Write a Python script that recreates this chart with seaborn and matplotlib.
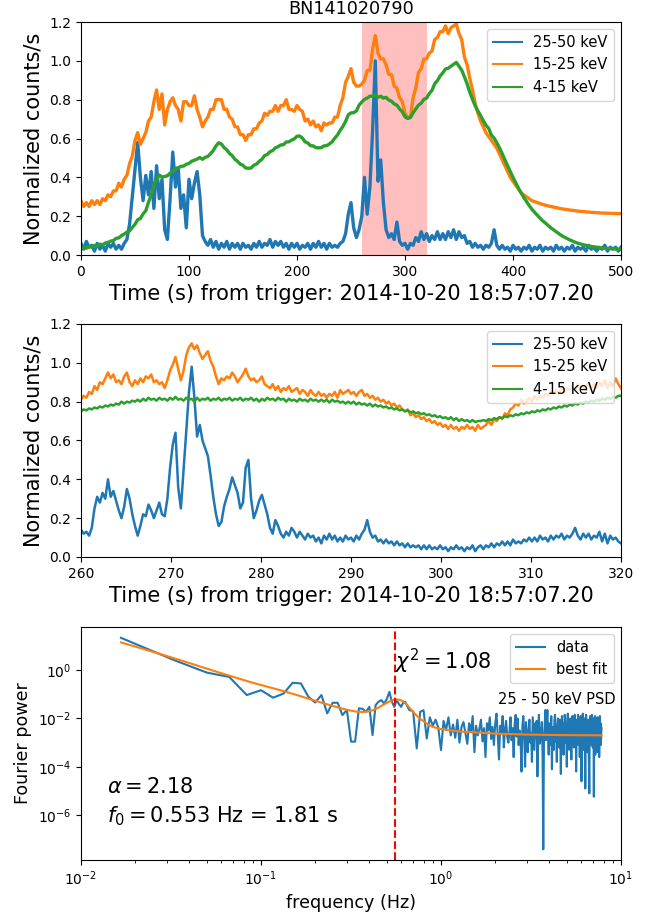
import numpy as np
import matplotlib
matplotlib.use("Agg")
import matplotlib.pyplot as plt
import matplotlib.ticker as mticker
import seaborn as sns

# ---------------------------------------------------------------- data
band_labels = ["25-50 keV", "15-25 keV", "4-15 keV"]
band_colors = ["#1f77b4", "#ff7f0e", "#2ca02c"]

# full light curve, 0-500 s, 2.5 s bins (normalized counts/s)
lc_full_25_50 = [
    0.06, 0.03, 0.07, 0.04, 0.05, 0.02, 0.06, 0.03, 0.05, 0.02, 0.06, 0.04, 0.06, 0.03, 0.05, 0.03, 0.06,
    0.08, 0.16, 0.30, 0.44, 0.58, 0.40, 0.28, 0.41, 0.31, 0.43, 0.24, 0.46, 0.29, 0.39,
    0.13, 0.08, 0.29, 0.53, 0.35, 0.45, 0.24, 0.31, 0.14, 0.39, 0.29, 0.37, 0.43, 0.31, 0.10, 0.07,
    0.05, 0.08, 0.04, 0.07, 0.03, 0.06, 0.04, 0.07, 0.03, 0.06,
    0.04, 0.06, 0.03, 0.06, 0.04, 0.05, 0.03, 0.06, 0.04, 0.07,
    0.04, 0.06, 0.05, 0.08, 0.04, 0.07, 0.05, 0.07, 0.04, 0.06,
    0.03, 0.06, 0.04, 0.06, 0.03, 0.05, 0.04, 0.06, 0.03, 0.06,
    0.04, 0.07, 0.04, 0.06, 0.03, 0.06, 0.04, 0.05, 0.04, 0.06,
    0.07,
    0.11, 0.21, 0.27, 0.14, 0.09, 0.13, 0.20, 0.40, 0.21, 0.35,
    0.64, 1.00, 0.38, 0.49, 0.27, 0.13, 0.09, 0.11, 0.08, 0.17,
    0.07, 0.05, 0.06, 0.03, 0.06, 0.05, 0.09, 0.07, 0.12, 0.08,
    0.11, 0.07, 0.10, 0.08, 0.12, 0.08, 0.11, 0.08, 0.12, 0.09,
    0.13, 0.08, 0.12, 0.09, 0.10, 0.06, 0.07, 0.04, 0.06, 0.04,
    0.05, 0.03, 0.05, 0.04, 0.06, 0.13, 0.05, 0.03,
    0.05, 0.03, 0.04, 0.02, 0.05, 0.03, 0.04, 0.02, 0.04, 0.03,
    0.05, 0.02, 0.04, 0.03, 0.05, 0.02, 0.04, 0.03, 0.04, 0.02,
    0.05, 0.03, 0.04, 0.02, 0.04, 0.03, 0.05, 0.02, 0.04, 0.03,
    0.04, 0.02, 0.05, 0.03, 0.04, 0.02, 0.04, 0.03, 0.05, 0.02,
    0.04, 0.03, 0.04, 0.02, 0.04,
]
lc_full_15_25 = [
    0.28, 0.25, 0.27, 0.25, 0.28, 0.26, 0.28, 0.26, 0.29, 0.28, 0.31, 0.30, 0.33, 0.33, 0.37, 0.35, 0.39,
    0.41, 0.47, 0.51, 0.59, 0.63, 0.57, 0.60, 0.63, 0.69, 0.71, 0.79, 0.85, 0.75, 0.83,
    0.67, 0.75, 0.79, 0.81, 0.77, 0.75, 0.69, 0.79, 0.79, 0.77, 0.77, 0.82, 0.75, 0.71, 0.66, 0.69,
    0.71, 0.75, 0.75, 0.80, 0.80, 0.80, 0.75, 0.75, 0.71, 0.70,
    0.66, 0.66, 0.62, 0.62, 0.59, 0.62, 0.62, 0.65, 0.65, 0.68,
    0.69, 0.73, 0.72, 0.74, 0.74, 0.77, 0.74, 0.77, 0.77, 0.80,
    0.75, 0.75, 0.74, 0.77, 0.75, 0.74, 0.69, 0.70, 0.67, 0.69,
    0.66, 0.67, 0.64, 0.68, 0.67, 0.68, 0.68, 0.71, 0.71, 0.77,
    0.81,
    0.89, 0.92, 0.96, 0.89, 0.87, 0.87, 0.88, 0.90, 0.95, 0.95,
    1.06, 1.13, 1.04, 1.01, 1.01, 0.98, 0.93, 0.93, 0.87, 0.86,
    0.81, 0.79, 0.73, 0.71, 0.71, 0.81, 0.86, 0.94, 0.96, 1.01,
    1.01, 1.04, 1.05, 1.11, 1.12, 1.15, 1.15, 1.18, 1.14, 1.17,
    1.18, 1.19, 1.14, 1.11, 1.02, 0.98, 0.91, 0.85, 0.78, 0.73,
    0.69, 0.66, 0.63, 0.61, 0.59, 0.57, 0.55, 0.52,
    0.49, 0.46, 0.43, 0.40, 0.38, 0.36, 0.34, 0.32, 0.31, 0.30,
    0.29, 0.28, 0.275, 0.27, 0.265, 0.26, 0.257, 0.253, 0.25, 0.247,
    0.244, 0.241, 0.238, 0.236, 0.234, 0.232, 0.23, 0.228, 0.226, 0.225,
    0.224, 0.222, 0.221, 0.22, 0.219, 0.218, 0.217, 0.216, 0.216, 0.215,
    0.215, 0.214, 0.214, 0.213, 0.213,
]
lc_full_4_15 = [
    0.03, 0.04, 0.035, 0.045, 0.04, 0.05, 0.045, 0.056, 0.052, 0.062, 0.064, 0.072, 0.074, 0.086, 0.088, 0.10, 0.108,
    0.118, 0.124, 0.142, 0.158, 0.182, 0.188, 0.212, 0.228, 0.272, 0.308, 0.362, 0.388, 0.412, 0.402,
    0.404, 0.408, 0.422, 0.428, 0.447, 0.448, 0.457, 0.458, 0.467, 0.472, 0.483, 0.488, 0.494, 0.502, 0.493, 0.503,
    0.508, 0.522, 0.538, 0.562, 0.578, 0.572, 0.553, 0.542, 0.523, 0.512,
    0.493, 0.482, 0.468, 0.462, 0.448, 0.447, 0.448, 0.462, 0.468, 0.482,
    0.493, 0.512, 0.518, 0.532, 0.538, 0.552, 0.558, 0.567, 0.568, 0.582,
    0.583, 0.592, 0.598, 0.612, 0.613, 0.602, 0.583, 0.577, 0.563, 0.562,
    0.553, 0.552, 0.553, 0.562, 0.563, 0.572, 0.583, 0.602, 0.618, 0.642,
    0.662,
    0.688, 0.722, 0.732, 0.733, 0.742, 0.772, 0.788, 0.802, 0.808, 0.818,
    0.818, 0.825, 0.812, 0.818, 0.808, 0.812, 0.798, 0.792, 0.778, 0.772,
    0.752, 0.738, 0.712, 0.703, 0.708, 0.732, 0.752, 0.772, 0.782, 0.802,
    0.808, 0.832, 0.848, 0.882, 0.898, 0.922, 0.938, 0.958, 0.962, 0.972,
    0.982, 0.992, 0.972, 0.952, 0.918, 0.882, 0.838, 0.802, 0.768, 0.742,
    0.718, 0.692, 0.668, 0.652, 0.618, 0.602, 0.578, 0.552,
    0.522, 0.49, 0.46, 0.43, 0.40, 0.372, 0.345, 0.32, 0.296, 0.275,
    0.255, 0.236, 0.22, 0.205, 0.19, 0.176, 0.165, 0.152, 0.14, 0.13,
    0.12, 0.11, 0.10, 0.092, 0.085, 0.078, 0.072, 0.066, 0.061, 0.057,
    0.053, 0.05, 0.047, 0.044, 0.042, 0.04, 0.038, 0.036, 0.035, 0.034,
    0.033, 0.032, 0.031, 0.03, 0.03,
]

# zoomed window, 260-320 s, 0.3 s bins
lc_zoom_25_50 = [
    0.14, 0.12, 0.13, 0.11, 0.15, 0.25, 0.31, 0.28, 0.33, 0.30,
    0.40, 0.31, 0.34, 0.29, 0.24, 0.20, 0.26, 0.35, 0.30, 0.22,
    0.16, 0.11, 0.16, 0.22, 0.21, 0.27, 0.24, 0.20, 0.24, 0.28,
    0.22, 0.21, 0.30, 0.46, 0.58, 0.64, 0.36, 0.25, 0.45, 0.65,
    0.85, 0.98, 0.82, 0.62, 0.68, 0.60, 0.56, 0.52, 0.42, 0.31,
    0.22, 0.16, 0.18, 0.26, 0.31, 0.35, 0.41, 0.37, 0.33, 0.25,
    0.28, 0.46, 0.50, 0.30, 0.20, 0.24, 0.29, 0.32, 0.27, 0.22,
    0.15, 0.12, 0.19, 0.16, 0.12, 0.10, 0.13, 0.11, 0.15, 0.13,
    0.10, 0.13, 0.11, 0.09, 0.12, 0.10, 0.11, 0.08, 0.10, 0.07,
    0.11, 0.09, 0.12, 0.09, 0.11, 0.08, 0.10, 0.08, 0.11, 0.09,
    0.10, 0.08, 0.11, 0.09, 0.12, 0.14, 0.19, 0.13, 0.10, 0.11,
    0.08, 0.09, 0.07, 0.09, 0.07, 0.08, 0.06, 0.08, 0.06, 0.07,
    0.05, 0.07, 0.05, 0.06, 0.05, 0.06, 0.04, 0.06, 0.04, 0.06,
    0.04, 0.05, 0.04, 0.06, 0.04, 0.05, 0.03, 0.05, 0.04, 0.06,
    0.04, 0.05, 0.03, 0.05, 0.04, 0.06, 0.03, 0.05, 0.06, 0.04,
    0.06, 0.05, 0.07, 0.05, 0.07, 0.06, 0.08, 0.06, 0.08, 0.06,
    0.09, 0.07, 0.08, 0.07, 0.09, 0.08, 0.10, 0.08, 0.10, 0.08,
    0.11, 0.09, 0.10, 0.08, 0.11, 0.09, 0.11, 0.10, 0.12, 0.09,
    0.11, 0.10, 0.12, 0.15, 0.11, 0.09, 0.12, 0.10, 0.12, 0.09,
    0.11, 0.10, 0.13, 0.08, 0.12, 0.07, 0.11, 0.09, 0.10, 0.08,
    0.07,
]
lc_zoom_15_25 = [
    0.81, 0.83, 0.82, 0.85, 0.84, 0.88, 0.86, 0.90, 0.89, 0.92,
    0.95, 0.92, 0.94, 0.90, 0.91, 0.89, 0.93, 0.95, 0.90, 0.88,
    0.91, 0.89, 0.92, 0.90, 0.93, 0.92, 0.94, 0.90, 0.91, 0.89,
    0.90, 0.87, 0.91, 0.96, 0.99, 1.03, 0.97, 0.91, 0.96, 1.04,
    1.08, 1.10, 1.07, 1.09, 1.05, 1.02, 1.04, 1.06, 1.01, 0.98,
    0.93, 0.89, 0.92, 0.91, 0.93, 0.92, 0.95, 0.93, 0.90, 0.92,
    0.94, 0.97, 0.93, 0.91, 0.92, 0.90, 0.91, 0.93, 0.89, 0.88,
    0.87, 0.89, 0.86, 0.88, 0.85, 0.87, 0.86, 0.88, 0.85, 0.86,
    0.87, 0.84, 0.86, 0.85, 0.83, 0.86, 0.84, 0.83, 0.85, 0.83,
    0.84, 0.82, 0.84, 0.83, 0.85, 0.82, 0.86, 0.84, 0.85, 0.86,
    0.84, 0.85, 0.83, 0.85, 0.86, 0.83, 0.84, 0.82, 0.83, 0.81,
    0.82, 0.80, 0.81, 0.79, 0.80, 0.78, 0.79, 0.77, 0.78, 0.76,
    0.75, 0.76, 0.73, 0.74, 0.72, 0.73, 0.71, 0.72, 0.70, 0.71,
    0.69, 0.70, 0.68, 0.69, 0.67, 0.68, 0.66, 0.68, 0.66, 0.67,
    0.65, 0.67, 0.66, 0.68, 0.66, 0.67, 0.65, 0.68, 0.66, 0.67,
    0.68, 0.70, 0.68, 0.71, 0.70, 0.72, 0.71, 0.74, 0.73, 0.76,
    0.77, 0.79, 0.78, 0.81, 0.79, 0.80, 0.82, 0.80, 0.83, 0.81,
    0.83, 0.82, 0.84, 0.83, 0.85, 0.84, 0.86, 0.84, 0.87, 0.85,
    0.87, 0.86, 0.88, 0.86, 0.89, 0.87, 0.88, 0.86, 0.90, 0.87,
    0.89, 0.87, 0.90, 0.88, 0.91, 0.87, 0.90, 0.88, 0.92, 0.89,
    0.87,
]
lc_zoom_4_15 = [
    0.75, 0.76, 0.755, 0.765, 0.76, 0.77, 0.765, 0.775, 0.77, 0.78,
    0.775, 0.785, 0.78, 0.79, 0.785, 0.80, 0.79, 0.80, 0.795, 0.805,
    0.80, 0.81, 0.80, 0.815, 0.805, 0.82, 0.81, 0.815, 0.805, 0.82,
    0.81, 0.815, 0.805, 0.82, 0.81, 0.825, 0.81, 0.815, 0.805, 0.82,
    0.81, 0.815, 0.80, 0.82, 0.805, 0.815, 0.81, 0.82, 0.805, 0.815,
    0.81, 0.82, 0.805, 0.815, 0.81, 0.82, 0.805, 0.815, 0.81, 0.82,
    0.805, 0.815, 0.81, 0.82, 0.805, 0.815, 0.80, 0.815, 0.805, 0.82,
    0.81, 0.815, 0.805, 0.82, 0.81, 0.815, 0.80, 0.815, 0.805, 0.81,
    0.80, 0.815, 0.805, 0.81, 0.80, 0.815, 0.805, 0.81, 0.80, 0.81,
    0.80, 0.81, 0.795, 0.81, 0.80, 0.805, 0.795, 0.80, 0.79, 0.80,
    0.79, 0.80, 0.785, 0.795, 0.785, 0.79, 0.78, 0.79, 0.775, 0.785,
    0.775, 0.78, 0.77, 0.775, 0.765, 0.77, 0.76, 0.765, 0.755, 0.76,
    0.75, 0.755, 0.745, 0.75, 0.74, 0.745, 0.735, 0.74, 0.73, 0.735,
    0.725, 0.73, 0.72, 0.725, 0.715, 0.72, 0.71, 0.72, 0.705, 0.715,
    0.70, 0.71, 0.70, 0.705, 0.695, 0.705, 0.695, 0.70, 0.70, 0.705,
    0.70, 0.71, 0.705, 0.715, 0.71, 0.72, 0.715, 0.725, 0.72, 0.73,
    0.725, 0.735, 0.73, 0.74, 0.735, 0.745, 0.74, 0.75, 0.745, 0.755,
    0.75, 0.76, 0.755, 0.765, 0.76, 0.77, 0.765, 0.775, 0.77, 0.78,
    0.775, 0.785, 0.78, 0.79, 0.785, 0.795, 0.79, 0.80, 0.795, 0.805,
    0.80, 0.81, 0.805, 0.815, 0.81, 0.82, 0.815, 0.825, 0.82, 0.83,
    0.83,
]

# 25-50 keV power spectrum: log10(power) on the 1/60 Hz Fourier grid
psd_log_low = [  # bins 1..40
    1.34, 0.40, -0.10, -0.28, -1.03, -0.83, -1.14, -0.97, -0.52, -0.55,
    -1.10, -1.34, -1.03, -1.79, -1.35, -1.35, -1.86, -1.65, -2.96, -2.96,
    -1.58, -1.60, -1.72, -1.52, -2.69, -1.45, -1.30, -1.24, -1.38, -1.20,
    -0.90, -1.30, -1.52, -1.24, -1.40, -1.52, -1.35, -1.31, -1.50, -1.65,
]
psd_log_high = [  # every second bin from bin 42 (0.70 Hz) to bin 468 (7.80 Hz)
    -1.70, -3.24, -1.72, -1.66, -2.83, -1.95, -2.30, -2.05, -2.40, -3.31,
    -2.10, -2.48, -1.95, -2.70, -2.25, -2.80, -2.05, -3.00, -2.35, -2.15,
    -2.60, -3.05, -2.20, -2.55, -1.90, -3.40, -2.30, -2.70, -2.45, -2.05,
    -2.95, -2.40, -3.60, -2.20, -2.50, -1.95, -2.85, -2.35, -3.10, -2.25,
    -1.80, -2.70, -3.70, -2.30, -2.60, -1.90, -3.20, -2.45, -2.10, -2.75,
    -3.00, -2.55, -1.95, -2.90, -2.40, -3.60, -2.20, -1.85, -2.75, -2.00,
    -3.10, -2.50, -2.85, -4.20, -2.30, -1.90, -2.70, -4.00, -2.15, -2.90,
    -3.40, -2.45, -2.05, -3.00, -2.60, -3.80, -1.95, -2.60, -3.30, -2.20,
    -2.80, -2.10, -4.40, -2.50, -1.85, -3.05, -2.40, -2.90, -2.15, -3.50,
    -7.42, -2.80, -2.30, -1.65, -2.90, -2.20, -1.65, -2.70, -3.50, -2.20,
    -3.10, -2.55, -1.90, -4.10, -2.35, -2.80, -3.30, -2.10, -1.85, -2.95,
    -2.50, -3.80, -2.25, -2.00, -2.70, -3.20, -2.05, -2.85, -4.30, -2.40,
    -1.90, -2.90, -2.20, -3.50, -2.60, -1.85, -2.05, -3.00, -2.45, -4.00,
    -2.30, -1.80, -2.75, -2.15, -3.30, -2.55, -2.00, -2.90, -3.70, -2.35,
    -1.90, -2.80, -2.10, -3.20, -2.50, -1.85, -2.95, -2.20, -4.20, -2.60,
    -2.05, -3.10, -1.85, -2.45, -2.85, -2.15, -3.60, -2.40, -1.90, -2.90,
    -4.60, -2.30, -2.75, -1.80, -2.10, -3.30, -2.55, -2.00, -2.95, -4.90,
    -2.40, -1.85, -2.80, -2.15, -3.40, -2.50, -2.05, -2.90, -3.80, -5.10,
    -2.35, -1.90, -2.70, -2.10, -3.10, -2.20, -1.85, -2.60, -3.20, -2.45,
    -2.00, -5.24, -2.40, -2.80, -1.90, -3.50, -2.30, -2.65, -2.10, -3.00,
    -2.55, -1.95, -3.40, -2.25, -2.70, -2.05, -3.60, -2.35, -1.90, -2.80,
    -2.20, -3.10, -2.60, -2.40,
]

# best-fit model (power law + bump at f0 + white noise), log10(power)
fit_freq = [0.0167, 0.0234, 0.0365, 0.057, 0.0888, 0.1386, 0.216, 0.27, 0.308, 0.34,
            0.368, 0.395, 0.421, 0.45, 0.481, 0.515, 0.553, 0.585, 0.614, 0.65,
            0.687, 0.73, 0.784, 0.84, 0.895, 0.96, 1.02, 1.28, 2.0, 3.11, 4.85, 7.8]
fit_log = [1.15, 0.83, 0.39, -0.07, -0.51, -0.90, -1.34, -1.55, -1.66, -1.72,
           -1.73, -1.71, -1.65, -1.55, -1.42, -1.30, -1.21, -1.22, -1.28, -1.45,
           -1.66, -1.87, -2.07, -2.22, -2.34, -2.41, -2.45, -2.54, -2.63, -2.67, -2.69, -2.70]

alpha_fit = 2.18
f0_fit = 0.553
chi2_fit = 1.08

# ---------------------------------------------------------------- figure
fig = plt.figure(figsize=(6.6, 9.17), dpi=100)
ax_full = fig.add_axes([0.1227, 0.7219, 0.8182, 0.2541])
ax_zoom = fig.add_axes([0.1227, 0.3926, 0.8182, 0.2541])
ax_psd = fig.add_axes([0.1227, 0.0622, 0.8182, 0.2541])

LABEL_FS = 15
LEGEND_FS = 10.5
time_label = "Time (s) from trigger: 2014-10-20 18:57:07.20"


def draw_light_curves(ax, t0, t1, curves, lw):
    for vals, lab, col in zip(curves, band_labels, band_colors):
        t = np.linspace(t0, t1, len(vals))
        sns.lineplot(x=t, y=vals, ax=ax, color=col, label=lab,
                     linewidth=lw, errorbar=None)
    ax.set_xlim(t0, t1)
    ax.set_ylim(0, 1.2)
    ax.set_yticks(np.arange(0, 1.21, 0.2))
    ax.set_xlabel(time_label, fontsize=LABEL_FS)
    ax.set_ylabel("Normalized counts/s", fontsize=LABEL_FS)
    leg = ax.legend(loc="upper right", fontsize=LEGEND_FS)
    for handle in leg.get_lines():
        handle.set_linewidth(1.5)


# full burst with the zoom window highlighted
ax_full.axvspan(260, 320, color="red", alpha=0.25, lw=0, zorder=0)
draw_light_curves(ax_full, 0, 500, [lc_full_25_50, lc_full_15_25, lc_full_4_15], lw=2.4)
ax_full.set_title("BN141020790", fontsize=12.7)

# zoomed window
draw_light_curves(ax_zoom, 260, 320, [lc_zoom_25_50, lc_zoom_15_25, lc_zoom_4_15], lw=1.8)
ax_zoom.set_xticks(np.arange(260, 321, 10))

# power spectrum
ax_psd.set_xscale("log")
ax_psd.set_yscale("log")
freq = np.concatenate([np.arange(1, len(psd_log_low) + 1),
                       42 + 2 * np.arange(len(psd_log_high))]) / 60.0
power = 10.0 ** np.array(psd_log_low + psd_log_high)
sns.lineplot(x=freq, y=power, ax=ax_psd, color=band_colors[0], label="data",
             linewidth=1.5, errorbar=None)
sns.lineplot(x=np.array(fit_freq), y=10.0 ** np.array(fit_log), ax=ax_psd,
             color=band_colors[1], label="best fit", linewidth=1.5, errorbar=None)
ax_psd.axvline(f0_fit, color="red", linestyle="--", linewidth=1.5)
ax_psd.set_xlim(1e-2, 1e1)
ax_psd.set_ylim(10 ** -7.86, 10 ** 1.79)
ax_psd.yaxis.set_minor_locator(mticker.NullLocator())
ax_psd.set_xlabel("frequency (Hz)", fontsize=12.6)
ax_psd.set_ylabel("Fourier power", fontsize=12.6)
ax_psd.legend(loc="upper right", fontsize=LEGEND_FS)

ax_psd.text(f0_fit, 1.15, r"$\chi^2 = %.2f$" % chi2_fit, fontsize=15,
            ha="left", va="baseline")
ax_psd.text(0.8815, 0.687, "25 - 50 keV PSD", transform=ax_psd.transAxes,
            fontsize=LEGEND_FS, ha="center", va="center")
ax_psd.text(0.048, 0.289, r"$\alpha = %.2f$" % alpha_fit, transform=ax_psd.transAxes,
            fontsize=15, ha="left", va="baseline")
ax_psd.text(0.048, 0.162, r"$f_0 = %.3f$ Hz = %.2f s" % (f0_fit, 1.0 / f0_fit),
            transform=ax_psd.transAxes, fontsize=15, ha="left", va="baseline")

fig.savefig("out.png", dpi=100)
